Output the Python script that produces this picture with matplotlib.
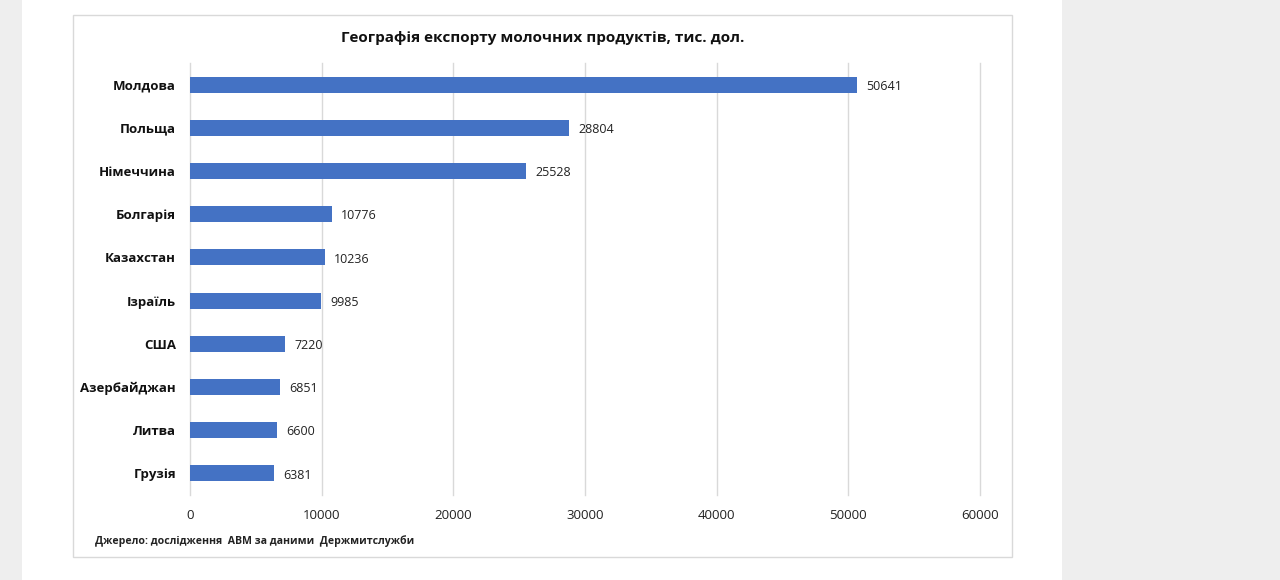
import matplotlib.pyplot as plt
from matplotlib.patches import Rectangle

plt.rcParams['font.family'] = ['Open Sans', 'DejaVu Sans']

countries = ['Молдова', 'Польща', 'Німеччина', 'Болгарія', 'Казахстан',
             'Ізраїль', 'США', 'Азербайджан', 'Литва', 'Грузія']
values = [50641, 28804, 25528, 10776, 10236, 9985, 7220, 6851, 6600, 6381]
xticks = [0, 10000, 20000, 30000, 40000, 50000, 60000]

BAR_COLOR = '#4472C4'
GRID_COLOR = '#D9D9D9'
W, H = 1280, 580

fig = plt.figure(figsize=(W / 100, H / 100), dpi=100)
fig.patch.set_facecolor('white')

# grey page margins and the chart frame
fig.patches.append(Rectangle((0, 0), 22 / W, 1, transform=fig.transFigure,
                             facecolor='#EEEEEE', edgecolor='none', zorder=-2))
fig.patches.append(Rectangle((1062 / W, 0), (W - 1062) / W, 1, transform=fig.transFigure,
                             facecolor='#EEEEEE', edgecolor='none', zorder=-2))
fig.patches.append(Rectangle((73 / W, (H - 557) / H), (1012 - 73) / W, (557 - 15) / H,
                             transform=fig.transFigure, facecolor='white',
                             edgecolor='#D9D9D9', linewidth=1, zorder=-1))

ax = fig.add_axes([190 / W, (H - 495) / H, (980 - 190) / W, (495 - 63) / H])
ax.set_zorder(1)
ax.set_facecolor('none')

ypos = list(range(len(countries)))
ax.barh(ypos, values, height=0.37, color=BAR_COLOR, zorder=2)
for y, v in zip(ypos, values):
    ax.text(v + 700, y + 0.04, str(v), va='center', ha='left', fontsize=9, color='#222222')

ax.set_ylim(len(countries) - 0.5, -0.5)
ax.set_xlim(0, 60000)
ax.set_yticks(ypos)
ax.set_yticklabels(countries, fontsize=9.5, fontweight='bold', color='#111111')
ax.set_xticks(xticks)
ax.set_xticklabels([str(t) for t in xticks], fontsize=9.5, color='#222222')
ax.tick_params(axis='both', length=0)
ax.tick_params(axis='y', pad=10)
ax.tick_params(axis='x', pad=10)
ax.grid(axis='x', color=GRID_COLOR, linewidth=1, zorder=0)
for gl in ax.get_xgridlines():
    gl.set_clip_on(False)
for s in ax.spines.values():
    s.set_visible(False)

fig.text(543 / W, 1 - 38 / H, 'Географія експорту молочних продуктів, тис. дол.',
         ha='center', va='center', fontsize=11, fontweight='bold', color='#111111')
fig.text(95 / W, 1 - 541 / H, 'Джерело: дослідження  АВМ за даними  Держмитслужби',
         ha='left', va='center', fontsize=7.6, fontweight='bold', color='#222222')

fig.savefig('out.png', dpi=100)
